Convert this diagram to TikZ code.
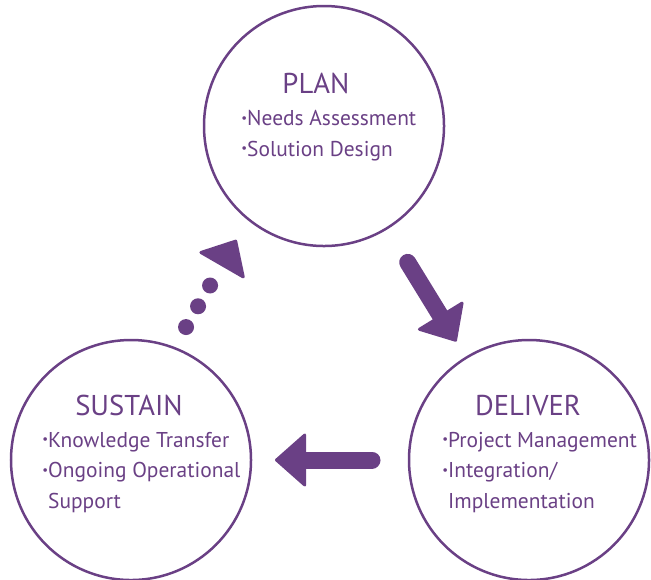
\documentclass[tikz,border=0pt]{standalone}
\usepackage{fontspec}
\setmainfont{PT Sans}
\usetikzlibrary{arrows.meta}

\newcommand{\itemdot}{\raisebox{0.3ex}{\scalebox{0.6}{\textbullet}}}

\begin{document}
\begin{tikzpicture}
	[x=0.2mm,y=-0.2mm,line cap=round,
	%Styles
	stage/.style={circle,draw=cyclecolor,line width=0.5mm,minimum size=48mm,inner sep=0pt,outer sep=0pt},
	stage title/.style={text=cyclecolor,font=\fontsize{16.3}{20}\selectfont,anchor=base,inner sep=0pt},
	stage items/.style={text=cyclecolor,font=\fontsize{12.2}{17.3}\selectfont,align=left,anchor=base west,inner sep=0pt},
	flow arrow/.style={draw=cyclecolor,line width=3.4mm,-{Triangle[width=11.2mm,length=6.4mm,round,line width=0.6mm]}},
	dot arrow/.style={draw=cyclecolor,line width=3.2mm,dash pattern=on 0mm off 4.8mm,-{Triangle[width=11mm,length=6.2mm,round,line width=0.6mm]}}
	]
	
	%Colors
	\definecolor{cyclecolor}{RGB}{106,64,133}
	
	\useasboundingbox (0,0) rectangle (651,579);
	
	%The circles
	\node[stage] (plan) at (324,126) {};
	\node[stage] (deliver) at (529,460) {};
	\node[stage] (sustain) at (131,460) {};
	
	\node[stage title] (plan title) at (316,93) {PLAN};
	\node[stage title] (deliver title) at (528,415) {DELIVER};
	\node[stage title] (sustain title) at (129,415) {SUSTAIN};
	
	%base = last line
	\node[stage items] (plan items) at (241,156) {\itemdot Needs Assessment\\\itemdot Solution Design};
	\node[stage items] (deliver items) at (442,508) {\itemdot Project Management\\\itemdot Integration/\\\hphantom{\itemdot}Implementation};
	\node[stage items] (sustain items) at (42,508) {\itemdot Knowledge Transfer\\\itemdot Ongoing Operational\\\hphantom{\itemdot}Support};
	
	%The arrows
	\draw[flow arrow,shorten <=8mm,shorten >=3.8mm] (plan) -- (deliver);
	\draw[flow arrow,shorten <=7.4mm,shorten >=4.8mm] (deliver) -- (sustain);
	\draw[dot arrow,shorten <=4.4mm,shorten >=4.6mm,transform canvas={shift={(-16,-10)}}] (sustain) -- (plan);
	
\end{tikzpicture}
\end{document}
